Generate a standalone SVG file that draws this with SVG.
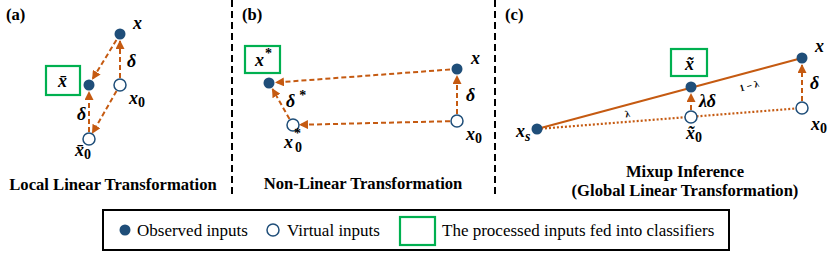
<svg xmlns="http://www.w3.org/2000/svg" width="830" height="254" viewBox="0 0 830 254">
<style>
.obs{fill:#1f4e79;}
.vir{fill:#fff;stroke:#1f4e79;stroke-width:1.5;}
.box{fill:#fff;stroke:#00b050;stroke-width:2.2;}
.arr{stroke:#c55a11;stroke-width:2;stroke-dasharray:5 3;fill:none;marker-end:url(#ah);}
.sol{stroke:#c55a11;stroke-width:2;fill:none;}
.dot{stroke:#c55a11;stroke-width:2.2;stroke-dasharray:2 2;fill:none;}
.sep{stroke:#000;stroke-width:2;stroke-dasharray:7 4;}
text{font-family:'Liberation Serif','Times New Roman','DejaVu Serif',serif;fill:#000;}
.m{font-weight:bold;font-style:italic;font-size:18px;}
.sub{font-style:normal;font-size:14px;}
.t{font-weight:bold;font-size:16.6px;}
.lg{font-size:17px;}
.sm{font-weight:bold;font-size:9.5px;}
</style>
<defs>
<marker id="ah" markerWidth="4.5" markerHeight="4.5" refX="4" refY="2.25" orient="auto" markerUnits="strokeWidth">
<path d="M0,0 L4.5,2.25 L0,4.5 Z" fill="#c55a11"/>
</marker>
</defs>

<g id="separators">
<line class="sep" x1="232" y1="0" x2="232" y2="196"/>
<line class="sep" x1="495" y1="0" x2="495" y2="196"/>
</g>

<g id="connectors">
<line class="arr" x1="116.4" y1="40" x2="92.6" y2="79"/>
<line class="arr" x1="120" y1="78" x2="120" y2="41"/>
<line class="arr" x1="116.5" y1="91" x2="92.5" y2="133"/>
<line class="arr" x1="89" y1="132" x2="89" y2="92"/>

<line class="arr" x1="450" y1="69.5" x2="276" y2="82.5"/>
<line class="arr" x1="450" y1="121.2" x2="300" y2="124.8"/>
<line class="arr" x1="457" y1="114" x2="457" y2="76"/>
<line class="arr" x1="289.5" y1="119" x2="272.5" y2="89"/>

<line class="sol" x1="537" y1="129" x2="802" y2="58"/>
<line class="dot" x1="537" y1="129" x2="802" y2="108"/>
<line class="arr" x1="691" y1="110" x2="691" y2="94"/>
<line class="arr" x1="802" y1="101" x2="802" y2="65"/>
</g>

<g id="panel-a">
<text class="t" x="6" y="20">(a)</text>
<g id="a-x"><circle class="obs" cx="120" cy="34" r="5.5"/><text class="m" x="133" y="29">x</text></g>
<g id="a-xbar"><rect class="box" x="46" y="66" width="34" height="29"/><text class="m" x="58" y="87">x̄</text><circle class="obs" cx="89" cy="85" r="5.5"/></g>
<g id="a-x0"><circle class="vir" cx="120" cy="85" r="6"/><text class="m" x="129" y="104">x<tspan class="sub" dy="3">0</tspan></text></g>
<g id="a-xbar0"><circle class="vir" cx="89" cy="139" r="6"/><text class="m" x="75" y="156">x̄<tspan class="sub" dy="3">0</tspan></text></g>
<text class="m" x="127" y="67">δ</text>
<text class="m" x="77" y="120">δ</text>
<text class="t" x="113" y="190" text-anchor="middle">Local Linear Transformation</text>
</g>

<g id="panel-b">
<text class="t" x="242" y="20">(b)</text>
<g id="b-xstar"><rect class="box" x="245" y="46" width="35" height="27"/><text class="m" x="255" y="66">x<tspan class="sub" font-size="11" dx="1" dy="-8">*</tspan></text><circle class="obs" cx="269" cy="83" r="5.5"/></g>
<g id="b-x"><circle class="obs" cx="457" cy="69" r="5.5"/><text class="m" x="471" y="64">x</text></g>
<g id="b-x0"><circle class="vir" cx="457" cy="121" r="6"/><text class="m" x="466" y="140">x<tspan class="sub" dy="3">0</tspan></text></g>
<g id="b-x0star"><circle class="vir" cx="293" cy="125" r="6"/><text class="m" x="284" y="148">x<tspan class="sub" font-size="10" dx="1" dy="-10">*</tspan><tspan class="sub" dx="-6" dy="14">0</tspan></text></g>
<text class="m" x="286" y="107">δ<tspan class="sub" font-size="11" dx="4" dy="-7">*</tspan></text>
<text class="m" x="466" y="101">δ</text>
<text class="t" x="363" y="189" text-anchor="middle">Non-Linear Transformation</text>
</g>

<g id="panel-c">
<text class="t" x="505" y="20">(c)</text>
<g id="c-xs"><circle class="obs" cx="537" cy="129" r="5.5"/><text class="m" x="516" y="137">x<tspan font-size="14" dy="4">s</tspan></text></g>
<g id="c-xtilde"><rect class="box" x="671" y="49" width="36" height="27"/><text class="m" x="685" y="70">x̃</text><circle class="obs" cx="691" cy="87" r="5.5"/></g>
<g id="c-x"><circle class="obs" cx="802" cy="58" r="5.5"/><text class="m" x="815" y="52">x</text></g>
<g id="c-xtilde0"><circle class="vir" cx="691" cy="117" r="6"/><text class="m" x="686" y="139">x̃<tspan class="sub" dy="3">0</tspan></text></g>
<g id="c-x0"><circle class="vir" cx="802" cy="108" r="6"/><text class="m" x="811" y="130">x<tspan class="sub" dy="3">0</tspan></text></g>
<text class="m" x="810" y="89">δ</text>
<text class="m" x="699" y="107">λδ</text>
<text class="sm" x="628" y="117" text-anchor="middle" transform="rotate(-12 628 117)">λ</text>
<text class="sm" x="750" y="89" text-anchor="middle" transform="rotate(-15 750 89)">1 − λ</text>
<text class="t" x="685" y="177" text-anchor="middle">Mixup Inference</text>
<text class="t" x="685" y="196" text-anchor="middle">(Global Linear Transformation)</text>
</g>

<g id="legend">
<rect x="103" y="210" width="626" height="40" fill="#fff" stroke="#000" stroke-width="2"/>
<circle class="obs" cx="125" cy="230" r="5.5"/>
<text class="lg" x="137" y="236">Observed inputs</text>
<circle class="vir" cx="273" cy="230" r="6"/>
<text class="lg" x="287" y="236">Virtual inputs</text>
<rect class="box" x="400" y="217" width="35" height="28"/>
<text class="lg" x="442" y="236">The processed inputs fed into classifiers</text>
</g>
</svg>
